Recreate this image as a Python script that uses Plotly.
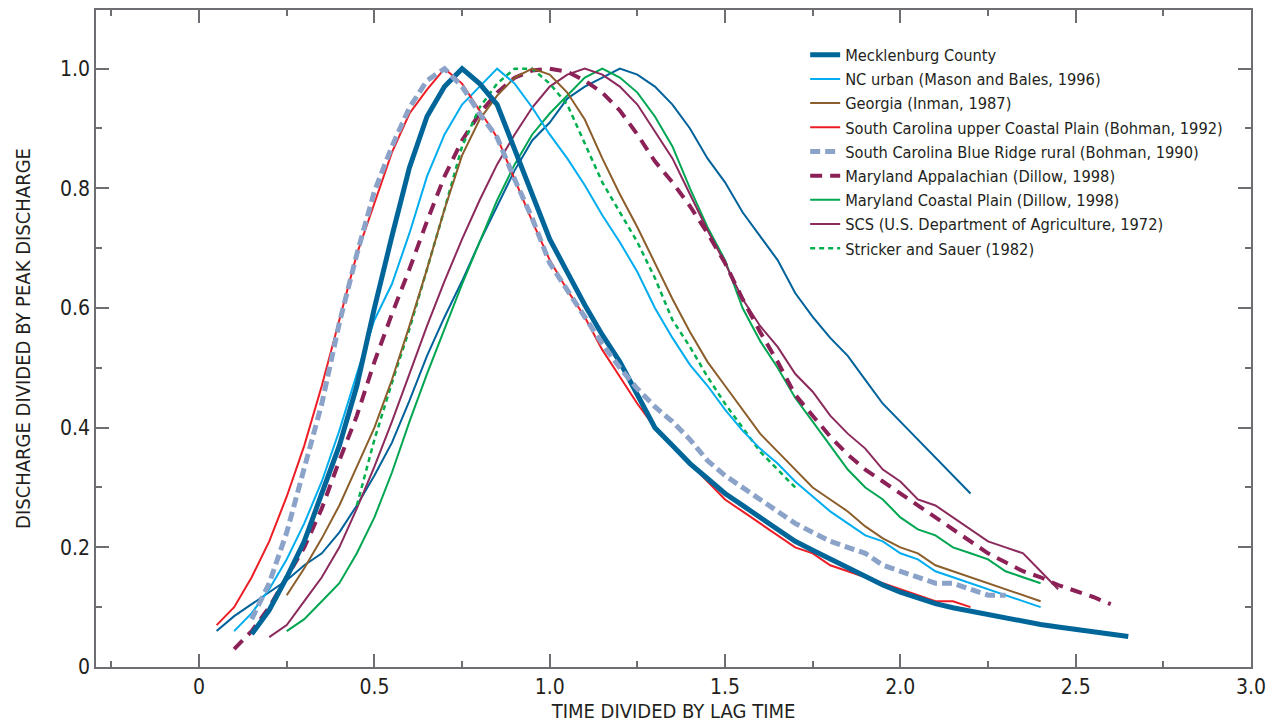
import plotly.graph_objects as go

# ---------------- data ----------------
T_MECK = [0.15, 0.2, 0.25, 0.3, 0.35, 0.4, 0.45, 0.5, 0.55, 0.6, 0.65, 0.7, 0.75,
          0.8, 0.85, 0.9, 0.95, 1.0, 1.05, 1.1, 1.15, 1.2, 1.25, 1.3, 1.35, 1.4, 1.45, 1.5,
          1.55, 1.6, 1.65, 1.7, 1.75, 1.8, 1.85, 1.9, 1.95, 2.0,
          2.05, 2.1, 2.15, 2.2, 2.25, 2.3, 2.35, 2.4, 2.45, 2.5, 2.55, 2.6, 2.65]
Q_MECK = [0.055, 0.095, 0.15, 0.21, 0.29, 0.37, 0.47, 0.60, 0.72, 0.835, 0.92, 0.97, 1.0,
          0.975, 0.94, 0.865, 0.785, 0.715, 0.66, 0.605, 0.555, 0.51, 0.455, 0.40, 0.37, 0.34, 0.315, 0.29,
          0.27, 0.25, 0.23, 0.21, 0.195, 0.18, 0.165, 0.15, 0.137, 0.125,
          0.115, 0.106, 0.099, 0.093, 0.087, 0.081, 0.076, 0.071, 0.067, 0.063, 0.059, 0.055, 0.051]

T_NC = [0.1, 0.15, 0.2, 0.25, 0.3, 0.35, 0.4, 0.45, 0.5, 0.55, 0.6, 0.65, 0.7, 0.75, 0.8, 0.85,
        0.9, 0.95, 1.0, 1.05, 1.1, 1.15, 1.2, 1.25, 1.3, 1.35, 1.4, 1.45, 1.5, 1.55, 1.6, 1.65,
        1.7, 1.75, 1.8, 1.85, 1.9, 1.95, 2.0, 2.05, 2.1, 2.15, 2.2, 2.25, 2.3, 2.35, 2.4]
Q_NC = [0.06, 0.09, 0.13, 0.18, 0.24, 0.31, 0.395, 0.49, 0.58, 0.64, 0.725, 0.82, 0.89, 0.94, 0.97, 1.0,
        0.975, 0.935, 0.89, 0.85, 0.805, 0.755, 0.71, 0.66, 0.60, 0.55, 0.505, 0.47, 0.43, 0.395, 0.365, 0.34,
        0.31, 0.285, 0.26, 0.24, 0.22, 0.21, 0.19, 0.18, 0.16, 0.15, 0.14, 0.13, 0.12, 0.11, 0.10]

T_GA = [0.25, 0.3, 0.35, 0.4, 0.45, 0.5, 0.55, 0.6, 0.65, 0.7, 0.75, 0.8, 0.85, 0.9, 0.95,
        1.0, 1.05, 1.1, 1.15, 1.2, 1.25, 1.3, 1.35, 1.4, 1.45, 1.5, 1.55, 1.6, 1.65, 1.7, 1.75,
        1.8, 1.85, 1.9, 1.95, 2.0, 2.05, 2.1, 2.15, 2.2, 2.25, 2.3, 2.35, 2.4]
Q_GA = [0.12, 0.165, 0.215, 0.27, 0.335, 0.40, 0.48, 0.57, 0.665, 0.765, 0.855, 0.915, 0.955, 0.985, 1.0,
        0.99, 0.96, 0.915, 0.85, 0.79, 0.735, 0.675, 0.615, 0.56, 0.51, 0.47, 0.43, 0.39, 0.36, 0.33, 0.30,
        0.28, 0.26, 0.235, 0.215, 0.20, 0.19, 0.17, 0.16, 0.15, 0.14, 0.13, 0.12, 0.11]

T_SCCP = [0.05, 0.1, 0.15, 0.2, 0.25, 0.3, 0.35, 0.4, 0.45, 0.5, 0.55, 0.6, 0.65, 0.7,
          0.75, 0.8, 0.85, 0.9, 0.95, 1.0, 1.05, 1.1, 1.15, 1.2, 1.25, 1.3, 1.35, 1.4, 1.45, 1.5,
          1.55, 1.6, 1.65, 1.7, 1.75, 1.8, 1.85, 1.9, 1.95, 2.0, 2.05, 2.1, 2.15, 2.2]
Q_SCCP = [0.07, 0.10, 0.15, 0.21, 0.285, 0.37, 0.47, 0.58, 0.69, 0.775, 0.86, 0.925, 0.965, 1.0,
          0.975, 0.93, 0.885, 0.815, 0.745, 0.68, 0.63, 0.585, 0.53, 0.485, 0.44, 0.40, 0.37, 0.34, 0.31, 0.28,
          0.26, 0.24, 0.22, 0.20, 0.19, 0.17, 0.16, 0.15, 0.14, 0.13, 0.12, 0.11, 0.11, 0.10]

T_SCBR = [0.15, 0.2, 0.25, 0.3, 0.35, 0.4, 0.45, 0.5, 0.55, 0.6, 0.65, 0.7,
          0.75, 0.8, 0.85, 0.9, 0.95, 1.0, 1.05, 1.1, 1.15, 1.2, 1.25, 1.3, 1.35, 1.4, 1.45, 1.5,
          1.55, 1.6, 1.65, 1.7, 1.75, 1.8, 1.85, 1.9, 1.95, 2.0, 2.05, 2.1, 2.15, 2.2, 2.25, 2.3]
Q_SCBR = [0.08, 0.14, 0.225, 0.33, 0.44, 0.575, 0.69, 0.795, 0.87, 0.935, 0.98, 1.0,
          0.97, 0.925, 0.885, 0.815, 0.75, 0.675, 0.63, 0.585, 0.54, 0.50, 0.465, 0.435, 0.41, 0.38, 0.345, 0.32,
          0.30, 0.28, 0.26, 0.24, 0.225, 0.21, 0.20, 0.19, 0.17, 0.16, 0.15, 0.14, 0.14, 0.13, 0.12, 0.12]

T_MDA = [0.1, 0.15, 0.2, 0.25, 0.3, 0.35, 0.4, 0.45, 0.5, 0.55, 0.6, 0.65, 0.7, 0.75, 0.8, 0.85, 0.9, 0.95, 1.0,
         1.05, 1.1, 1.15, 1.2, 1.25, 1.3, 1.35, 1.4, 1.45, 1.5, 1.55, 1.6, 1.65, 1.7, 1.75, 1.8, 1.85,
         1.9, 1.95, 2.0, 2.05, 2.1, 2.15, 2.2, 2.25, 2.3, 2.35, 2.4, 2.45, 2.5, 2.55, 2.6]
Q_MDA = [0.03, 0.06, 0.10, 0.15, 0.20, 0.265, 0.345, 0.42, 0.51, 0.59, 0.665, 0.745, 0.82, 0.88, 0.925, 0.96, 0.985, 0.997, 1.0,
         0.995, 0.98, 0.96, 0.93, 0.89, 0.845, 0.81, 0.77, 0.725, 0.675, 0.615, 0.56, 0.51, 0.455, 0.42, 0.385, 0.355,
         0.33, 0.31, 0.29, 0.27, 0.25, 0.23, 0.21, 0.19, 0.175, 0.16, 0.15, 0.137, 0.127, 0.117, 0.105]

T_MDC = [0.25, 0.3, 0.35, 0.4, 0.45, 0.5, 0.55, 0.6, 0.65, 0.7, 0.75, 0.8, 0.85, 0.9, 0.95, 1.0, 1.05, 1.1, 1.15,
         1.2, 1.25, 1.3, 1.35, 1.4, 1.45, 1.5, 1.55, 1.6, 1.65, 1.7, 1.75, 1.8, 1.85, 1.9, 1.95, 2.0,
         2.05, 2.1, 2.15, 2.2, 2.25, 2.3, 2.35, 2.4]
Q_MDC = [0.06, 0.08, 0.11, 0.14, 0.19, 0.25, 0.325, 0.41, 0.49, 0.565, 0.64, 0.71, 0.78, 0.84, 0.89, 0.925, 0.955, 0.985, 1.0,
         0.985, 0.96, 0.92, 0.87, 0.80, 0.735, 0.68, 0.60, 0.545, 0.50, 0.45, 0.41, 0.37, 0.33, 0.30, 0.28, 0.25,
         0.23, 0.22, 0.20, 0.19, 0.18, 0.16, 0.15, 0.14]

T_SCS = [0.2, 0.25, 0.3, 0.35, 0.4, 0.45, 0.5, 0.55, 0.6, 0.65, 0.7, 0.75, 0.8, 0.85, 0.9, 0.95, 1.0, 1.05, 1.1,
         1.15, 1.2, 1.25, 1.3, 1.35, 1.4, 1.45, 1.5, 1.55, 1.6, 1.65, 1.7, 1.75, 1.8, 1.85, 1.9, 1.95,
         2.0, 2.05, 2.1, 2.15, 2.2, 2.25, 2.3, 2.35, 2.4, 2.45]
Q_SCS = [0.05, 0.07, 0.11, 0.15, 0.20, 0.265, 0.335, 0.41, 0.49, 0.57, 0.645, 0.715, 0.78, 0.84, 0.89, 0.935, 0.97, 0.99, 1.0,
         0.99, 0.97, 0.94, 0.895, 0.85, 0.79, 0.73, 0.675, 0.615, 0.57, 0.535, 0.49, 0.46, 0.42, 0.39, 0.365, 0.33,
         0.31, 0.28, 0.27, 0.25, 0.23, 0.21, 0.20, 0.19, 0.16, 0.13]

T_SS = [0.45, 0.5, 0.55, 0.6, 0.65, 0.7, 0.75, 0.8, 0.85, 0.9, 0.95, 1.0, 1.05, 1.1, 1.15, 1.2, 1.25,
        1.3, 1.35, 1.4, 1.45, 1.5, 1.55, 1.6, 1.65, 1.7]
Q_SS = [0.27, 0.38, 0.475, 0.565, 0.665, 0.765, 0.87, 0.935, 0.975, 1.0, 1.0, 0.975, 0.94, 0.875, 0.81, 0.76, 0.71,
        0.65, 0.58, 0.535, 0.485, 0.44, 0.40, 0.36, 0.33, 0.30]

# unlabeled thin dark-blue curve
T_OTHER = [0.05, 0.1, 0.15, 0.2, 0.25, 0.3, 0.35, 0.4, 0.45, 0.5, 0.55, 0.6, 0.65, 0.7, 0.75, 0.8, 0.85, 0.9,
           0.95, 1.0, 1.05, 1.1, 1.15, 1.2, 1.25, 1.3, 1.35, 1.4, 1.45, 1.5, 1.55, 1.6, 1.65, 1.7, 1.75,
           1.8, 1.85, 1.9, 1.95, 2.0, 2.05, 2.1, 2.15, 2.2]
Q_OTHER = [0.06, 0.085, 0.105, 0.125, 0.145, 0.17, 0.19, 0.225, 0.27, 0.32, 0.375, 0.445, 0.52, 0.585, 0.645, 0.71, 0.77, 0.83,
           0.88, 0.91, 0.95, 0.97, 0.985, 1.0, 0.99, 0.97, 0.94, 0.90, 0.85, 0.81, 0.76, 0.72, 0.68, 0.625, 0.585,
           0.55, 0.52, 0.48, 0.44, 0.41, 0.38, 0.35, 0.32, 0.29]

X_TICKS = [0, 0.5, 1.0, 1.5, 2.0, 2.5, 3.0]
X_TICKTEXT = ["0", "0.5", "1.0", "1.5", "2.0", "2.5", "3.0"]
X_MINOR = [-0.25, 0.25, 0.75, 1.25, 1.75, 2.25, 2.75]
Y_TICKS = [0, 0.2, 0.4, 0.6, 0.8, 1.0]
Y_TICKTEXT = ["0", "0.2", "0.4", "0.6", "0.8", "1.0"]
Y_MINOR = [0.1, 0.3, 0.5, 0.7, 0.9]

FONT = "Liberation Sans Narrow, Arial Narrow, DejaVu Sans Condensed, Roboto, sans-serif"
AXIS = "#6d6e71"
TEXT = "#231f20"

fig = go.Figure()

def add(name, t, q, color, width, dash="solid", rank=1, show=True):
    fig.add_trace(go.Scatter(
        x=t, y=q, mode="lines", name=name, showlegend=show, legendrank=rank,
        line=dict(color=color, width=width, dash=dash), hoverinfo="skip"))

add("", T_OTHER, Q_OTHER, "#00629b", 2, show=False, rank=100)
add("Maryland Coastal Plain (Dillow, 1998)", T_MDC, Q_MDC, "#00a651", 2, rank=7)
add("SCS (U.S. Department of Agriculture, 1972)", T_SCS, Q_SCS, "#8b2a5c", 2, rank=8)
add("Maryland Appalachian (Dillow, 1998)", T_MDA, Q_MDA, "#8c2157", 4, dash="12px,8px", rank=6)
add("Stricker and Sauer (1982)", T_SS, Q_SS, "#00b04f", 2.5, dash="5px,4px", rank=9)
add("Georgia (Inman, 1987)", T_GA, Q_GA, "#8b5e2b", 2, rank=3)
add("NC urban (Mason and Bales, 1996)", T_NC, Q_NC, "#00adee", 2, rank=2)
add("South Carolina upper Coastal Plain (Bohman, 1992)", T_SCCP, Q_SCCP, "#ee1c24", 2, rank=4)
add("Mecklenburg County", T_MECK, Q_MECK, "#00669a", 5, rank=1)
add("South Carolina Blue Ridge rural (Bohman, 1990)", T_SCBR, Q_SCBR, "#8ba2c9", 5, dash="10px,5px", rank=5)

axis_common = dict(
    showline=True, linecolor=AXIS, linewidth=1.5, mirror="ticks",
    ticks="inside", ticklen=13, tickwidth=1.5, tickcolor=AXIS,
    showgrid=False, zeroline=False, automargin=False,
    tickfont=dict(family=FONT, size=21, color=TEXT),
)

fig.update_layout(
    width=1274, height=723,
    margin=dict(l=96, r=23, t=10, b=56),
    plot_bgcolor="white", paper_bgcolor="white",
    font=dict(family=FONT, color=TEXT),
    xaxis=dict(range=[-0.294, 3.0], tickvals=X_TICKS, ticktext=X_TICKTEXT,
               minor=dict(tickvals=X_MINOR, ticks="inside", ticklen=6, tickwidth=1.5, tickcolor=AXIS),
               title=dict(text="TIME DIVIDED BY LAG TIME", font=dict(family=FONT, size=20, color=TEXT), standoff=3),
               **axis_common),
    yaxis=dict(range=[0, 1.098], tickvals=Y_TICKS, ticktext=Y_TICKTEXT,
               minor=dict(tickvals=Y_MINOR, ticks="inside", ticklen=6, tickwidth=1.5, tickcolor=AXIS),
               title=dict(text="DISCHARGE DIVIDED BY PEAK DISCHARGE", font=dict(family=FONT, size=20, color=TEXT), standoff=24),
               **axis_common),
    legend=dict(x=0.614, y=0.958, xanchor="left", yanchor="top",
                bgcolor="rgba(0,0,0,0)", font=dict(family=FONT, size=16.3, color=TEXT),
                tracegroupgap=0),
)

fig.write_html("out.html")
